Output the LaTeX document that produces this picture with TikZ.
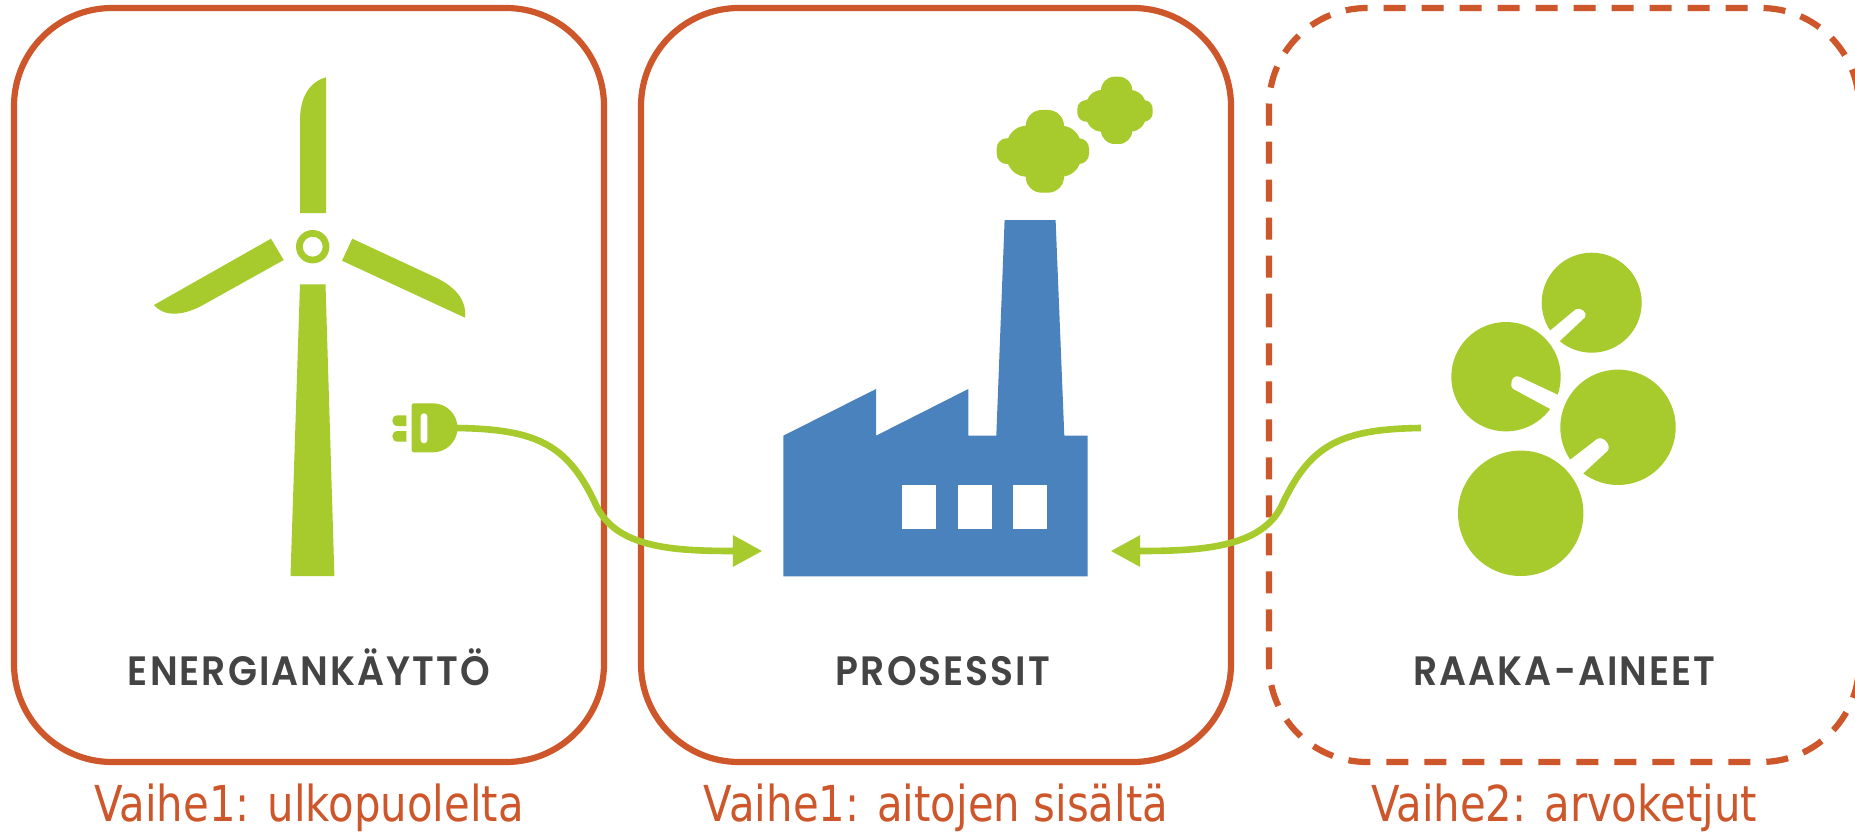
\documentclass[tikz,border=0pt]{standalone}
\usepackage{fontspec}
\usetikzlibrary{arrows.meta}
\newfontfamily\capsfont[LetterSpace=5,FakeStretch=0.92,BoldFont={Poppins SemiBold}]{Poppins}
\newfontfamily\stagefont[FakeStretch=0.845]{DejaVu Sans}
\definecolor{rust}{HTML}{CD562A}
\definecolor{leaf}{HTML}{A7CA2C}
\definecolor{steel}{HTML}{4A82BD}
\definecolor{ink}{HTML}{444444}
\tikzset{
  framebox/.style={line width=6.2pt,rounded corners=98pt,minimum width=590pt,minimum height=754pt,inner sep=0,outer sep=0},
  capslabel/.style={anchor=base,inner sep=0,text=ink,font={\capsfont\bfseries\fontsize{41}{48}\selectfont}},
  stagelabel/.style={anchor=base,inner sep=0,text=rust,font={\stagefont\fontsize{49.5}{58}\selectfont}},
  cable/.style={draw=leaf,line width=6.6pt,-{Triangle[length=29.5pt,width=30pt]}},
}
\newcommand{\cloudpart}[5]{\fill[leaf,rounded corners=#5pt] (#1,#3) rectangle (#2,#4);}
\begin{document}
\begin{tikzpicture}[x=1pt,y=-1pt]
\useasboundingbox (0,0) rectangle (1855,832);
\fill[white] (0,0) rectangle (1855,832);
% wind turbine
\fill[leaf] (326,77.3) .. controls (309,82) and (300,98) .. (300,120) -- (300,213) -- (326,213) -- cycle;
\fill[leaf] (300,284.3) -- (325.5,284.3) -- (334.4,576) -- (290.5,576) -- cycle;
\fill[leaf] (271,238.7) -- (283.7,260) -- (203,305) .. controls (185,315) and (165,318) .. (154,305) -- cycle;
\fill[leaf] (352.3,238.7) -- (342,260.7) -- (465,317.7) .. controls (467,300) and (455,287) .. (436.7,278) -- cycle;
\fill[leaf,even odd rule] (312.7,246.7) circle (16.7pt) (312.7,246.7) circle (10pt);
% plug
\fill[leaf] (414,403.3) -- (433,403.3) .. controls (446.5,403.3) and (457.5,414.3) .. (457.5,427.8) .. controls (457.5,441.3) and (446.5,452.3) .. (433,452.3) -- (414,452.3) .. controls (412.5,452.3) and (411.7,451.5) .. (411.7,450) -- (411.7,405.6) .. controls (411.7,404.1) and (412.5,403.3) .. (414,403.3) -- cycle;
\fill[white,rounded corners=3.2pt] (420.7,413.3) rectangle (427.3,443.3);
\fill[leaf] (406.3,415.3) -- (397.7,415.3) .. controls (390.5,415.3) and (390.5,426) .. (397.7,426) -- (406.3,426) -- cycle;
\fill[leaf] (406.3,431) -- (397.7,431) .. controls (390.5,431) and (390.5,441.7) .. (397.7,441.7) -- (406.3,441.7) -- cycle;
% factory
\fill[steel] (783.3,435.7) -- (876,389) -- (876,435.7) -- (968.3,389) -- (968.3,435.7) -- (996.3,435.7) -- (1004.6,220) -- (1055.6,220) -- (1064.3,435.7) -- (1087.7,435.7) -- (1087.7,576.3) -- (783.3,576.3) -- cycle;
\fill[white] (902,485) rectangle (936,529);
\fill[white] (958,485) rectangle (992,529);
\fill[white] (1013,485) rectangle (1047,529);
% smoke
\cloudpart{1025.7}{1064}{110}{192.7}{16}
\cloudpart{1006.7}{1081}{125.7}{176.7}{20}
\cloudpart{996.7}{1089}{138.3}{164}{10}
\cloudpart{1101}{1132.3}{76.7}{144}{13.5}
\cloudpart{1086}{1146}{90}{131.7}{16}
\cloudpart{1077.3}{1152.7}{100}{121.7}{9}
% raw material discs
\fill[leaf] (1520.7,513.3) circle (62.7pt);
\fill[leaf] (1618,427.3) circle (57.7pt);
\fill[white] (1567.3,462) -- (1596.7,439.3) .. controls (1602.7,435) and (1611.7,445) .. (1607.7,450.7) -- (1580.7,475.7) -- cycle;
\fill[leaf] (1506,376.7) circle (54.7pt);
\fill[white] (1561,396.3) -- (1519.3,376.7) .. controls (1511.7,374) and (1508.7,386) .. (1513.3,389) -- (1552.7,410.3) -- cycle;
\fill[leaf] (1591.7,302.7) circle (50pt);
\fill[white] (1547.7,332.6) -- (1575.7,309.3) .. controls (1580,306.7) and (1588.3,312.7) .. (1585,317.3) -- (1557.8,342.8) -- cycle;
% frames
\node[framebox,draw=rust] (energy) at (309,385) {};
\node[framebox,draw=rust] (process) at (936,385) {};
\node[framebox] (materials) at (1564,385) {};
\draw[rust,line width=6.2pt,rounded corners=98pt,dash pattern=on 22pt off 16pt] (1269,207.3) -- (1269,762) -- (1859,762) -- (1859,8) -- (1269,8) -- cycle;
% connectors
\coordinate (plugend) at (456,428);
\coordinate (in1) at (762.3,551);
\coordinate (rawend) at (1421,428);
\coordinate (in2) at (1110.7,551);
\draw[cable] (plugend) .. controls (538,429) and (568,445) .. (596,505) .. controls (616,548) and (673,551) .. (in1);
\draw[cable] (rawend) .. controls (1340,429) and (1310,445) .. (1282,505) .. controls (1262,548) and (1200,551) .. (in2);
% labels
\node[capslabel] (lab1) at (309,685.5) {ENERGIANKÄYTTÖ};
\node[capslabel] (lab2) at (943,685.5) {PROSESSIT};
\node[capslabel] (lab3) at (1564.5,685.5) {RAAKA-AINEET};
\node[stagelabel] (st1) at (309,821.7) {Vaihe1: ulkopuolelta};
\node[stagelabel] (st2) at (936,821.7) {Vaihe1: aitojen sisältä};
\node[stagelabel] (st3) at (1564,821.7) {Vaihe2: arvoketjut};
\end{tikzpicture}
\end{document}
